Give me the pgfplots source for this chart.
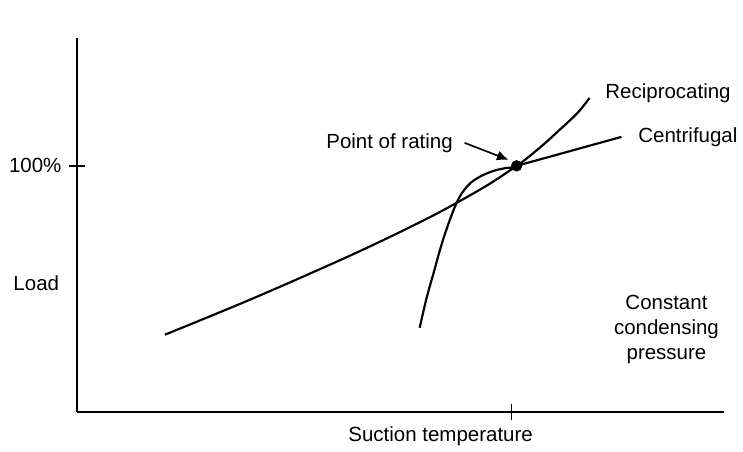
\documentclass[border=0pt]{standalone}
\usepackage{fontspec}
\setmainfont{Liberation Sans}
\usepackage{pgfplots}
\pgfplotsset{compat=1.18}
\usetikzlibrary{arrows.meta}

% coordinates are reference pixels: x to the right, y = 448 - pixel row
\tikzset{curve/.style={black, line width=1.3pt, mark=none}}

\begin{document}
\begin{tikzpicture}
\begin{axis}[
    scale only axis,
    width=388.8pt, height=224.4pt,
    xmin=77, xmax=725, ymin=36, ymax=410,
    axis x line*=bottom, axis y line*=left,
    axis line style={-, line width=1.1pt},
    xtick={512}, xticklabels={},
    ytick={282}, yticklabels={100\%},
    tick align=center,
    major tick length=9.6pt,
    every tick/.style={black, line width=1pt},
    /pgf/number format/assume math mode=true,
    yticklabel style={font=\fontsize{12.3}{14}\selectfont, xshift=-1pt},
    clip=false,
]
% keep the picture's full size
\path (axis cs:0,0) rectangle (axis cs:743,448);

% centrifugal
\addplot[curve, smooth, tension=0.6] coordinates {
  (165,113) (250,148) (330,183) (380,206) (427,229) (457,245) (490,264) (517,282)
};
\addplot[curve] coordinates {(517,282) (622,311)};

% reciprocating
\addplot[curve, smooth, tension=0.6] coordinates {
  (420,120) (427,150) (434,175) (444,210) (457,245) (468,262) (480,271)
  (494,277) (507,280) (517,282) (540,300) (560,318) (578,335) (590,350)
};

% point of rating
\addplot[only marks, mark=*, mark size=3.2pt, black] coordinates {(517,282)};
\draw[-{Latex[length=7pt, width=6pt]}, line width=1pt] (axis cs:465,305) -- (axis cs:509,288);

\begin{scope}[font=\fontsize{12.3}{14}\selectfont]
\node[anchor=east] at (axis cs:459,305) {Point of rating};
\node[anchor=west] at (axis cs:600,355) {Reciprocating};
\node[anchor=west] at (axis cs:633,311) {Centrifugal};
\node[anchor=east] at (axis cs:65,165) {Load};
\node[align=center] at (axis cs:667,118) {Constant\\[1pt]condensing\\[1pt]pressure};
\node at (axis cs:441,11) {Suction temperature};
\end{scope}
\end{axis}
\end{tikzpicture}
\end{document}
